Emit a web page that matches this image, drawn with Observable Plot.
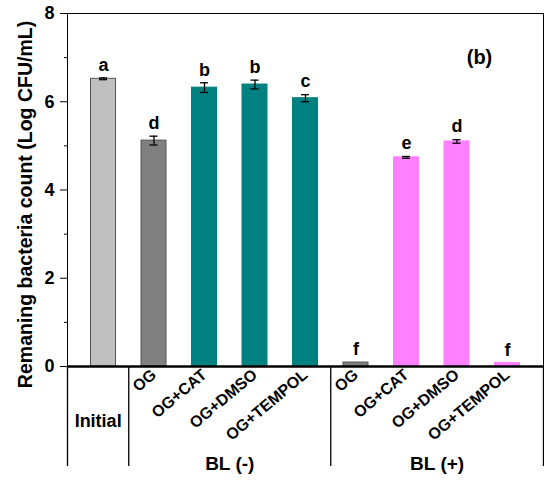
<!DOCTYPE html>
<html><head><meta charset="utf-8">
<script src="https://cdn.jsdelivr.net/npm/d3@7"></script>
<script src="https://cdn.jsdelivr.net/npm/@observablehq/plot@0.6"></script>
<style>body{margin:0;background:#fff}</style>
</head><body><div id="chart"></div>
<script>
// ---- data ----
const categories = ["Initial","OG","OG+CAT","OG+DMSO","OG+TEMPOL","OG","OG+CAT","OG+DMSO","OG+TEMPOL"];
const groupNames = ["Initial","BL (-)","BL (+)"];
const groupSizes = [1,4,4];
const values = [6.52,5.12,6.32,6.39,6.08,0.09,4.74,5.10,0.08];
const errors = [0.02,0.10,0.11,0.10,0.08,0.00,0.02,0.04,0.00];
const letters = ["a","d","b","b","c","f","e","d","f"];
const fills = ["#c0c0c0","#808080","#008080","#008080","#008080","#808080","#ff80ff","#ff80ff","#ff80ff"];
const strokes = ["#555555","#555555","#008080","#008080","#008080","#555555","#ff80ff","#ff80ff","#ff80ff"];
const yMajor = [0,2,4,6,8];
const yMinor = [1,3,5,7];
const yTitle = "Remaning bacteria count (Log CFU/mL)";
const panel = "(b)";

// ---- derived table ----
const rows = categories.map((c,i)=>({i, cat:c, v:values[i], e:errors[i], letter:letters[i], fill:fills[i], stroke:strokes[i]}));
const xPad = 0.713, half = 0.2475, cap = 0.08;
const bounds = [-xPad];
let acc = 0;
groupSizes.forEach((n,k)=>{ acc += n; bounds.push(k===groupSizes.length-1 ? acc-1+xPad : acc-0.5); });
const groupRows = groupNames.map((g,k)=>({g, x:(bounds[k]+bounds[k+1])/2, single: groupSizes[k]===1}));
const tickIdx = rows.filter((d,i)=>i>0).map(d=>d.i);
const blank = () => "";

const chart = Plot.plot({
  width: 544, height: 482,
  marginLeft: 67, marginRight: 1, marginTop: 13, marginBottom: 116,
  style: {fontFamily: "'Liberation Sans', Arial, sans-serif", fontWeight: "bold", fontSize: "18px", color: "black", background: "white"},
  x: {domain: [-xPad, 8+xPad]},
  y: {domain: [0, 8]},
  marks: [
    Plot.rectY(rows, {x1: d=>d.i-half, x2: d=>d.i+half, y1: 0, y2: "v", fill: "fill", stroke: "stroke", strokeWidth: 1}),
    Plot.ruleX(rows.filter(d=>d.e>0), {x: "i", y1: d=>d.v-d.e, y2: d=>d.v+d.e, stroke: "black", strokeWidth: 1.3}),
    Plot.ruleY(rows.filter(d=>d.e>0), {y: d=>d.v-d.e, x1: d=>d.i-cap, x2: d=>d.i+cap, stroke: "black", strokeWidth: 1.3}),
    Plot.ruleY(rows.filter(d=>d.e>0), {y: d=>d.v+d.e, x1: d=>d.i-cap, x2: d=>d.i+cap, stroke: "black", strokeWidth: 1.3}),
    Plot.text(rows, {x: "i", y: d=>d.v+d.e, text: "letter", dy: -13, lineAnchor: "middle", fontSize: 18, fontWeight: "bold"}),
    Plot.frame({stroke: "black", strokeWidth: 1}),
    Plot.ruleY([0], {stroke: "black", strokeWidth: 2.5}),
    Plot.axisY({ticks: yMajor, tickSize: 7, tickPadding: 6, fontSize: 18, label: null}),
    Plot.axisY({ticks: yMinor, tickSize: 3, tickFormat: blank, label: null}),
    Plot.axisX({ticks: bounds, tickSize: 100, tickFormat: blank, label: null, strokeWidth: 1.3}),
    Plot.axisX({ticks: tickIdx, tickSize: 0, tickPadding: 6, tickRotate: -40, tickFormat: i=>categories[i], fontSize: 16, label: null}),
    Plot.text(groupRows.filter(d=>d.single), {x: "x", text: "g", frameAnchor: "bottom", lineAnchor: "middle", dy: 55, fontSize: 18, fontWeight: "bold"}),
    Plot.text(groupRows.filter(d=>!d.single), {x: "x", text: "g", frameAnchor: "bottom", lineAnchor: "middle", dy: 97, fontSize: 19, fontWeight: "bold"}),
    Plot.text([yTitle], {frameAnchor: "left", textAnchor: "middle", lineAnchor: "middle", rotate: -90, dx: -42, dy: 14.5, fontSize: 19.5, fontWeight: "bold"}),
    Plot.text([panel], {frameAnchor: "top-right", textAnchor: "middle", lineAnchor: "middle", dx: -64, dy: 44, fontSize: 20, fontWeight: "bold"})
  ]
});
document.getElementById("chart").appendChild(chart);
</script>
</body></html>
